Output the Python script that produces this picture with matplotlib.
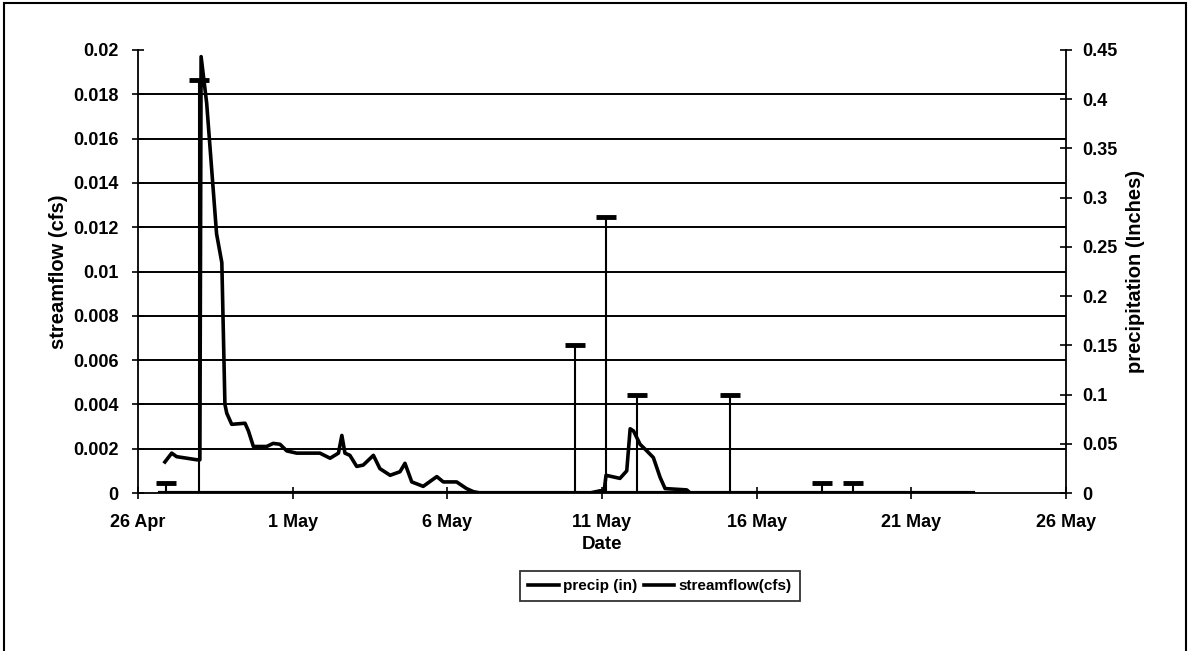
import numpy as np
import matplotlib
matplotlib.use("Agg")
import matplotlib.pyplot as plt
from matplotlib.patches import Rectangle
from matplotlib.lines import Line2D

plt.rcParams['font.family'] = ['Liberation Sans', 'DejaVu Sans']
plt.rcParams['font.weight'] = 'bold'

# days after 26 Apr 00:00
flow_day = [0.87, 1.09, 1.25, 1.58, 1.90, 2.00, 2.04, 2.22, 2.54, 2.71, 2.81, 2.87,
            3.03, 3.46, 3.57, 3.73, 4.16, 4.37, 4.59, 4.81, 5.13, 5.88, 6.21, 6.48,
            6.59, 6.69, 6.85, 7.07, 7.28, 7.61, 7.82, 8.15, 8.47, 8.63, 8.85, 9.22,
            9.66, 9.87, 10.30, 10.62, 10.84, 11.06, 14.61, 14.94, 15.07, 15.13, 15.58,
            15.80, 15.91, 16.02, 16.23, 16.45, 16.66, 16.88, 17.04, 17.74, 17.85, 27.0]
flow_cfs = [0.0014, 0.0018, 0.00164, 0.00157, 0.0015, 0.0015, 0.0197, 0.0176, 0.0117,
            0.0104, 0.0040, 0.0036, 0.0031, 0.00315, 0.0028, 0.0021, 0.0021, 0.00224,
            0.0022, 0.0019, 0.0018, 0.0018, 0.00157, 0.0018, 0.0026, 0.0018, 0.0017,
            0.0012, 0.00126, 0.0017, 0.0011, 0.0008, 0.00096, 0.00134, 0.0005, 0.0003,
            0.00074, 0.0005, 0.0005, 0.0002, 0.00006, 0.0, 0.0, 0.0001, 0.0001, 0.0008,
            0.00066, 0.0010, 0.0029, 0.0028, 0.0022, 0.0019, 0.0016, 0.0007, 0.0002,
            0.00014, 0.0, 0.0]

precip_day = [0.9, 1.97, 14.13, 15.13, 16.13, 19.14, 22.1, 23.1]
precip_in = [0.01, 0.42, 0.15, 0.28, 0.10, 0.10, 0.01, 0.01]
precip_span = [0.7, 27.0]

tick_days = [0, 5, 10, 15, 20, 25, 30]
tick_labels = ['26 Apr', '1 May', '6 May', '11 May', '16 May', '21 May', '26 May']
left_ticks = [0, 0.002, 0.004, 0.006, 0.008, 0.01, 0.012, 0.014, 0.016, 0.018, 0.02]
right_ticks = [0, 0.05, 0.1, 0.15, 0.2, 0.25, 0.3, 0.35, 0.4, 0.45]

fig = plt.figure(figsize=(11.9, 6.51), dpi=100)
ax = fig.add_axes([138 / 1190, 1 - 493 / 651, 928 / 1190, 443 / 651])
ax2 = ax.twinx()

for v in left_ticks[1:-1]:
    ax.axhline(v, color='black', lw=1.4, zorder=1)

ax.plot(flow_day, flow_cfs, color='black', lw=2.6, zorder=4, solid_joinstyle='round')

ax2.plot(precip_span, [0, 0], color='black', lw=3, zorder=3)
ax2.vlines(precip_day, 0, precip_in, color='black', lw=1.5, zorder=3)
ax2.plot(precip_day, precip_in, ls='none', marker='_', ms=14, mew=3.5, color='black', zorder=3)

ax.set_xlim(0, 30)
ax.set_ylim(0, 0.02)
ax2.set_ylim(0, 0.45)
ax.set_xticks(tick_days)
ax.set_xticklabels(tick_labels)
ax.set_yticks(left_ticks)
ax.set_yticklabels(['%g' % v for v in left_ticks])
ax2.set_yticks(right_ticks)
ax2.set_yticklabels(['%g' % v for v in right_ticks])

for a in (ax, ax2):
    a.spines['top'].set_visible(False)
    for s in a.spines.values():
        s.set_linewidth(1.3)
ax.spines['right'].set_visible(False)
ax2.spines['left'].set_visible(False)
ax2.spines['bottom'].set_visible(False)

ax.tick_params(axis='both', direction='inout', length=8, width=1.2, labelsize=13, pad=10)
ax2.tick_params(axis='y', direction='inout', length=8, width=1.2, labelsize=13, pad=8)
ax.tick_params(axis='x', pad=11)

ax.set_xlabel('Date', fontsize=13.5, fontweight='bold', labelpad=4)
ax.set_ylabel('streamflow (cfs)', fontsize=14.5, fontweight='bold', labelpad=4)
ax2.set_ylabel('precipitation (Inches)', fontsize=14.5, fontweight='bold', labelpad=6)

handles = [Line2D([], [], color='black', lw=2.6), Line2D([], [], color='black', lw=2.6)]
leg = fig.legend(handles, ['precip (in)', 'streamflow(cfs)'], loc='center',
                 bbox_to_anchor=(660 / 1190, 1 - 586 / 651), ncol=2, frameon=True,
                 fancybox=False, edgecolor='black', fontsize=11, handlelength=2.0,
                 handletextpad=0.3, columnspacing=0.4, borderpad=0.5)
leg.get_frame().set_linewidth(1.3)

fig.patches.append(Rectangle((0.0035, -0.02), 0.993, 1.015, transform=fig.transFigure,
                             fill=False, edgecolor='black', lw=1.5))

fig.savefig('out.png', dpi=100)
